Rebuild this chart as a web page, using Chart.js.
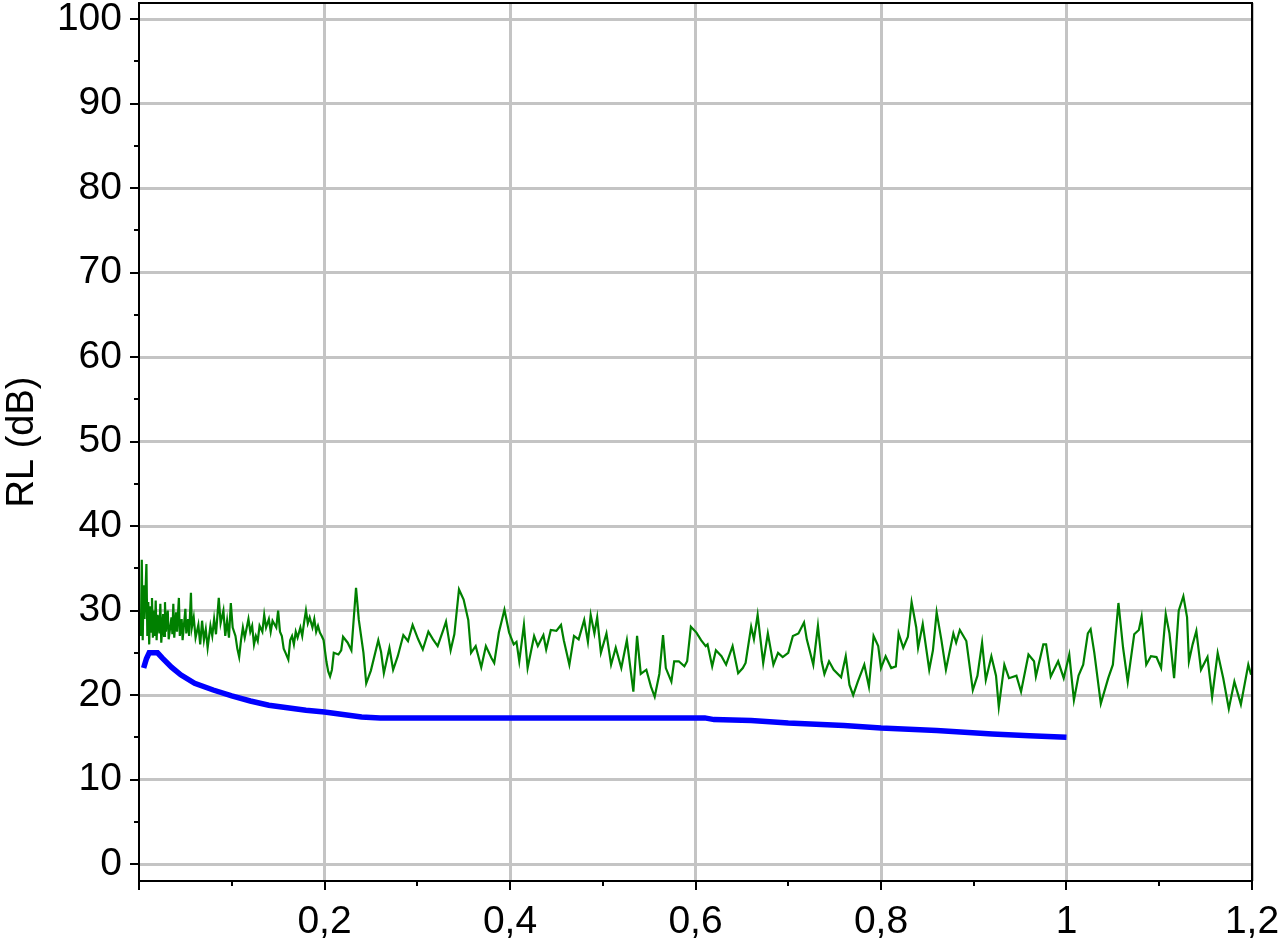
<!DOCTYPE html>
<html>
<head>
<meta charset="utf-8">
<script src="https://cdn.jsdelivr.net/npm/chart.js@4"></script>
<style>
  body { margin: 0; background: #fff; }
</style>
</head>
<body>
<canvas id="rl" width="1280" height="941"></canvas>
<script>
// green trace: measured RL along distance
const noiseX = [
  0.002, 0.003, 0.004, 0.005, 0.006, 0.008, 0.009, 0.010, 0.011, 0.012, 0.013, 0.014, 0.015, 0.016, 0.017, 0.018,
  0.019, 0.020, 0.022, 0.023, 0.024, 0.026, 0.027, 0.028, 0.029, 0.031, 0.032, 0.035, 0.036, 0.037, 0.038, 0.040,
  0.041, 0.043, 0.044, 0.046, 0.047, 0.050, 0.051, 0.053, 0.054, 0.056, 0.057, 0.059, 0.061, 0.064, 0.066, 0.068,
  0.070, 0.072, 0.074, 0.077, 0.079, 0.081, 0.083, 0.086, 0.088, 0.091, 0.093, 0.095, 0.097, 0.099, 0.101, 0.104,
  0.106, 0.108, 0.110, 0.112, 0.114, 0.118, 0.120, 0.122, 0.124, 0.126, 0.128, 0.130, 0.133, 0.135, 0.137, 0.140,
  0.142, 0.144, 0.148, 0.150, 0.152, 0.154, 0.156, 0.158, 0.161, 0.163, 0.165, 0.167, 0.169, 0.171, 0.174, 0.176,
  0.178, 0.180, 0.182, 0.184, 0.187, 0.189, 0.191, 0.193, 0.195, 0.197, 0.199, 0.202, 0.204, 0.206, 0.208,
  0.210, 0.215, 0.218, 0.220, 0.225, 0.229, 0.234, 0.237, 0.242, 0.245, 0.250, 0.258, 0.261, 0.264, 0.270, 0.274,
  0.279, 0.285, 0.290, 0.295, 0.301, 0.306, 0.312, 0.317, 0.322, 0.328, 0.331, 0.336, 0.340, 0.345, 0.350, 0.355,
  0.358, 0.363, 0.369, 0.374, 0.380, 0.383, 0.388, 0.394, 0.399, 0.404, 0.407, 0.410, 0.415, 0.419, 0.426, 0.430,
  0.436, 0.439, 0.444, 0.450, 0.455, 0.458, 0.464, 0.469, 0.474, 0.480, 0.484, 0.487, 0.491, 0.494, 0.498, 0.504,
  0.509, 0.514, 0.520, 0.526, 0.533, 0.537, 0.541, 0.547, 0.552, 0.556, 0.561, 0.565, 0.568, 0.574, 0.577, 0.582,
  0.588, 0.591, 0.595, 0.601, 0.606, 0.611, 0.613, 0.618, 0.622, 0.628, 0.633, 0.640, 0.646, 0.651, 0.654, 0.660,
  0.663, 0.667, 0.673, 0.678, 0.684, 0.689, 0.694, 0.700, 0.705, 0.711, 0.717, 0.720, 0.727, 0.732, 0.736, 0.739,
  0.744, 0.749, 0.757, 0.762, 0.766, 0.770, 0.775, 0.782, 0.787, 0.792, 0.797, 0.800, 0.805, 0.811, 0.816, 0.819,
  0.824, 0.829, 0.833, 0.838, 0.840, 0.845, 0.852, 0.856, 0.860, 0.865, 0.870, 0.878, 0.881, 0.885, 0.892, 0.899,
  0.904, 0.909, 0.913, 0.919, 0.924, 0.927, 0.933, 0.938, 0.946, 0.951, 0.959, 0.965, 0.967, 0.975, 0.978, 0.983,
  0.991, 0.997, 1.003, 1.008, 1.013, 1.018, 1.023, 1.026, 1.030, 1.037, 1.045, 1.050, 1.056, 1.061, 1.066, 1.073,
  1.078, 1.081, 1.086, 1.091, 1.097, 1.102, 1.107, 1.111, 1.116, 1.121, 1.126, 1.130, 1.132, 1.136, 1.140, 1.145,
  1.152, 1.157, 1.163, 1.169, 1.175, 1.181, 1.188, 1.196, 1.199
];
const noiseY = [
  27.0, 36.0, 26.5, 33.0, 29.0, 35.5, 27.0, 31.0, 26.0, 30.5, 27.5, 31.5, 26.8, 30.0, 27.0, 31.2,
  26.5, 29.5, 27.3, 30.8, 26.2, 29.6, 27.0, 31.0, 27.5, 30.0, 26.6, 29.2, 27.2, 30.8, 26.8, 29.8,
  27.5, 31.5, 27.0, 29.0, 26.5, 30.2, 27.3, 29.0, 27.0, 32.1, 28.0, 29.2, 26.8, 28.3, 26.0, 28.8,
  26.5, 27.8, 25.6, 28.2, 27.0, 29.0, 27.2, 31.5, 28.5, 30.0, 27.0, 28.8, 26.8, 30.9, 28.0, 27.0,
  25.5, 24.5, 26.5, 28.0, 26.8, 29.0, 27.5, 28.2, 26.0, 27.0, 26.4, 28.2, 27.5, 29.5, 28.0, 29.0,
  27.5, 28.8, 28.0, 30.0, 27.5, 27.0, 25.5, 25.0, 24.2, 26.5, 27.0, 26.0, 27.5, 26.8, 28.0, 27.0,
  28.6, 30.0, 28.5, 29.2, 28.0, 29.0, 27.5, 28.2, 27.4, 27.0, 26.5, 24.0, 22.8, 22.2, 23.0,
  25.0, 24.8, 25.3, 26.9, 26.2, 25.3, 32.7, 28.9, 25.0, 21.4, 22.9, 26.5, 25.1, 22.6, 25.6, 23.0,
  24.6, 27.1, 26.4, 28.3, 26.6, 25.4, 27.5, 26.6, 25.8, 27.7, 28.7, 25.3, 27.2, 32.5, 31.3, 28.9,
  25.0, 25.8, 23.3, 25.8, 24.4, 23.8, 27.4, 30.1, 27.4, 26.0, 26.3, 24.0, 28.3, 23.2, 27.0, 25.8,
  27.1, 25.4, 27.7, 27.6, 28.3, 26.5, 23.6, 27.0, 26.6, 28.9, 26.3, 29.5, 27.3, 29.2, 25.0, 27.3,
  23.6, 25.6, 23.2, 26.5, 20.4, 27.0, 22.5, 23.0, 21.0, 19.8, 22.5, 27.1, 23.2, 21.6, 24.0, 24.0,
  23.4, 24.0, 28.1, 27.4, 26.5, 25.8, 26.0, 23.4, 25.3, 24.6, 23.6, 25.8, 22.6, 23.2, 23.8, 28.1,
  26.6, 29.5, 23.8, 27.3, 23.6, 25.0, 24.5, 25.0, 27.0, 27.3, 28.6, 26.6, 23.6, 28.2, 24.0, 22.5,
  24.0, 23.0, 22.1, 24.6, 21.2, 20.0, 21.6, 23.6, 21.0, 27.0, 25.8, 23.2, 24.6, 23.2, 23.4, 27.3,
  25.6, 26.9, 31.0, 28.0, 25.6, 28.4, 23.0, 25.3, 29.8, 26.6, 23.0, 27.3, 26.2, 27.7, 26.4, 20.6,
  22.3, 26.2, 21.8, 24.6, 22.3, 18.6, 23.6, 22.0, 22.3, 20.4, 24.8, 24.0, 22.2, 26.0, 26.0, 22.2,
  24.0, 22.0, 24.8, 19.4, 22.3, 23.6, 27.3, 27.8, 25.0, 19.0, 22.0, 23.6, 30.9, 25.6, 21.6, 27.2,
  27.7, 29.3, 23.6, 24.6, 24.5, 23.2, 29.6, 27.3, 22.0, 30.0, 31.7, 29.2, 24.0, 26.0, 27.6, 23.0,
  24.5, 19.8, 25.0, 22.0, 18.4, 21.6, 18.9, 23.6, 22.4
];

// blue trace: limit curve
const limitX = [0.005, 0.008, 0.011, 0.020, 0.025, 0.035, 0.045, 0.060, 0.080, 0.100, 0.120, 0.140, 0.160, 0.180,
  0.200, 0.220, 0.240, 0.260, 0.610, 0.620, 0.660, 0.700, 0.760, 0.800, 0.860, 0.920, 0.960, 1.000];
const limitY = [23.2, 24.3, 25.0, 25.0, 24.4, 23.3, 22.4, 21.4, 20.6, 19.9, 19.3, 18.8, 18.5, 18.2,
  18.0, 17.7, 17.4, 17.3, 17.3, 17.1, 17.0, 16.7, 16.4, 16.1, 15.8, 15.4, 15.2, 15.0];

const yTitle = 'RL (dB)';

const toPoints = (xs, ys) => xs.map((x, i) => ({x: x, y: ys[i]}));

const isMajorX = v => Math.round(v * 10) % 2 === 0;
const isMajorY = v => Math.round(v) % 10 === 0;

// ticks and frame drawn by hand, the library ones have one length only
const framePlugin = {
  id: 'frame',
  afterDraw(chart) {
    const ctx = chart.ctx;
    const area = chart.chartArea;
    const xs = chart.scales.x;
    const ys = chart.scales.y;
    ctx.save();
    ctx.strokeStyle = '#000';
    ctx.lineWidth = 2;
    ctx.beginPath();
    xs.ticks.forEach(t => {
      const px = Math.round(xs.getPixelForValue(t.value));
      const len = isMajorX(t.value) ? 9 : 5;
      ctx.moveTo(px, area.bottom);
      ctx.lineTo(px, area.bottom + len);
    });
    ys.ticks.forEach(t => {
      const py = Math.round(ys.getPixelForValue(t.value));
      const len = isMajorY(t.value) ? 9 : 5;
      ctx.moveTo(area.left, py);
      ctx.lineTo(area.left - len, py);
    });
    ctx.stroke();
    ctx.strokeRect(area.left, area.top, area.right - area.left, area.bottom - area.top);
    ctx.restore();
  }
};

const fontFamily = '"Liberation Sans", Arial, sans-serif';

new Chart(document.getElementById('rl'), {
  type: 'line',
  data: {
    datasets: [
      {
        data: toPoints(noiseX, noiseY),
        borderColor: '#008000',
        borderWidth: 2.2,
        pointRadius: 0,
        tension: 0
      },
      {
        data: toPoints(limitX, limitY),
        borderColor: '#0000ff',
        borderWidth: 5.5,
        pointRadius: 0,
        tension: 0
      }
    ]
  },
  options: {
    responsive: false,
    animation: false,
    devicePixelRatio: 1,
    layout: {padding: {top: 3, right: 28, left: 0, bottom: 0}},
    plugins: {
      legend: {display: false},
      tooltip: {enabled: false}
    },
    scales: {
      x: {
        type: 'linear',
        min: 0,
        max: 1.2,
        afterFit: s => {
          s.height = 60;
          s.paddingLeft = 0;
          s.paddingRight = 0;
        },
        grid: {
          drawTicks: false,
          lineWidth: 3,
          color: c => (c.tick && isMajorX(c.tick.value) && c.tick.value > 0.01) ? '#c4c4c4' : 'rgba(0,0,0,0)'
        },
        border: {display: false},
        ticks: {
          stepSize: 0.1,
          autoSkip: false,
          maxRotation: 0,
          includeBounds: false,
          padding: 18,
          color: '#000',
          font: {family: fontFamily, size: 39},
          callback: v => (isMajorX(v) && v > 0.01) ? String(Number(v.toFixed(1))).replace('.', ',') : ''
        }
      },
      y: {
        min: -2,
        max: 101.9,
        afterFit: s => {
          s.width = 139;
          s.paddingTop = 0;
          s.paddingBottom = 0;
        },
        grid: {
          drawTicks: false,
          lineWidth: 3,
          color: c => (c.tick && isMajorY(c.tick.value)) ? '#c4c4c4' : 'rgba(0,0,0,0)'
        },
        border: {display: false},
        title: {
          display: true,
          text: yTitle,
          color: '#000',
          font: {family: fontFamily, size: 38},
          padding: {top: 0, bottom: 0}
        },
        ticks: {
          stepSize: 5,
          autoSkip: false,
          includeBounds: false,
          padding: 17,
          color: '#000',
          font: {family: fontFamily, size: 39},
          callback: v => isMajorY(v) ? String(v) : ''
        }
      }
    }
  },
  plugins: [framePlugin]
});
</script>
</body>
</html>
